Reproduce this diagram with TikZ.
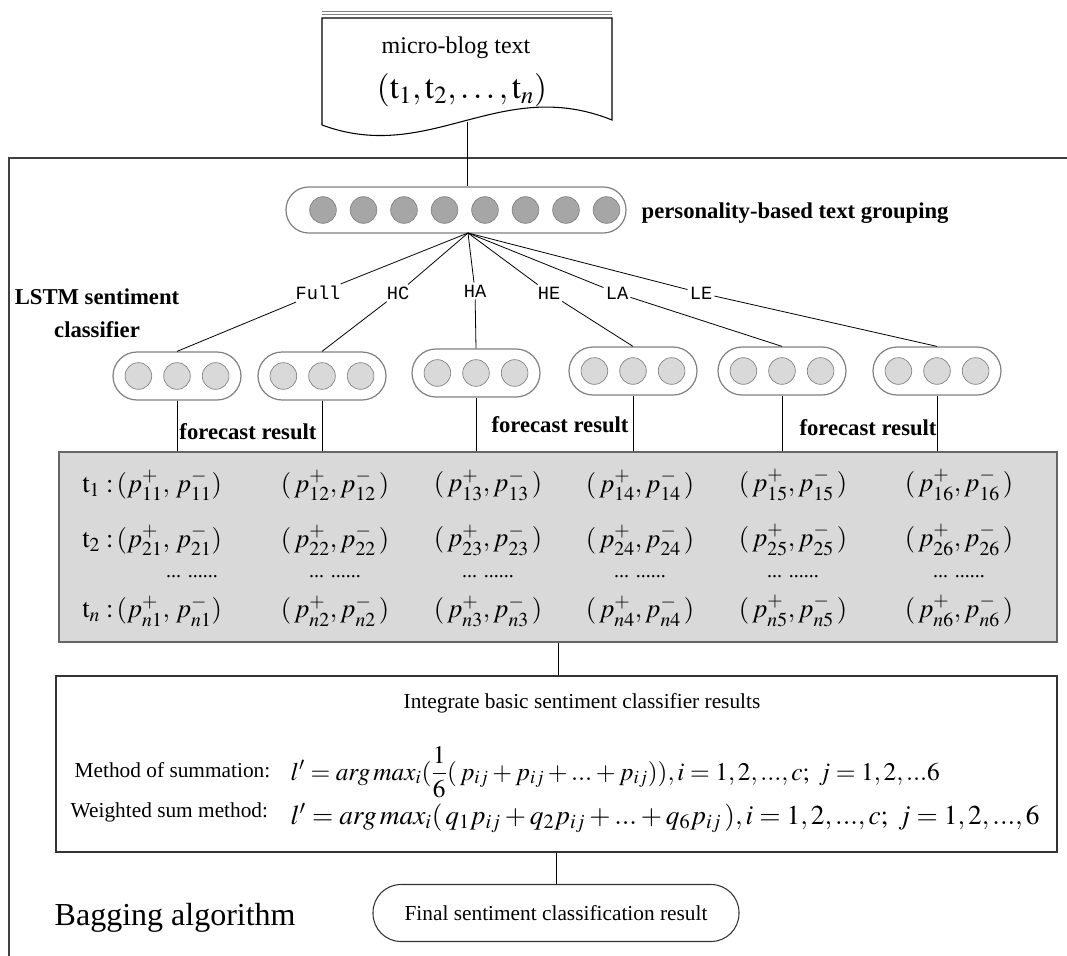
\documentclass[tikz,border=0pt]{standalone}
\usepackage{amsmath}
\usepackage{mathptmx}
\usepackage{fontspec}
\setmainfont{Liberation Serif}
\newfontfamily\branchfont{Liberation Mono}
\usetikzlibrary{positioning}
\definecolor{CellGray}{RGB}{217,217,217}
\definecolor{DotGray}{RGB}{166,166,166}
\definecolor{EdgeGray}{RGB}{128,128,128}

\begin{document}
\begin{tikzpicture}[x=0.75pt,y=-0.75pt,
	conn/.style={line width=0.6pt},
	pill/.style={draw=EdgeGray,line width=0.9pt,fill=white},
	bigdot/.style={fill=DotGray,draw=EdgeGray,line width=0.5pt},
	smalldot/.style={fill=CellGray,draw=EdgeGray,line width=0.5pt},
	branch/.style={font=\branchfont\fontsize{14}{16}\selectfont,inner sep=1.5pt},
	boldlbl/.style={font=\bfseries\fontsize{17}{25}\selectfont},
	cell/.style={font=\fontsize{20}{24}\selectfont,inner sep=0pt},
	ellip/.style={font=\fontsize{15}{15}\selectfont,inner sep=0pt},
	plain/.style={font=\fontsize{16}{18}\selectfont},
	formula/.style={anchor=west}]
	\useasboundingbox (0,0) rectangle (1067,956);
	
	% micro-blog document
	\draw[line width=0.7pt,gray] (322,11) -- (612,11);
	\draw[line width=0.7pt,gray] (322,14) -- (612,14);
	\draw[line width=0.8pt] (322,125) -- (322,18) -- (612,18) -- (612,120)
		.. controls (500,75) and (430,165) .. (322,125);
	\node[font=\fontsize{18}{20}\selectfont] (blogtitle) at (456,48) {micro-blog text};
	\node[font=\fontsize{25}{28}\selectfont] (blogseq) at (462,90) {$(\mathrm{t}_1, \mathrm{t}_2, \ldots, \mathrm{t}_n)$};
	\coordinate (docbot) at (467,122);
	
	% open frame of the bagging part
	\draw[line width=0.8pt,black!75] (1067,158) -- (9,158) -- (9,956);
	
	% grouping layer
	\node[pill,minimum width=255pt,minimum height=34.5pt,rounded corners=17pt] (grp) at (456,210) {};
	\foreach \k in {0,...,7}
		\draw[bigdot] ({323+40.5*\k},210) circle (10pt);
	\coordinate (hub) at (468,233);
	\draw[conn] (docbot) -- (docbot |- grp.north);
	\node[boldlbl,anchor=west] (grptext) at (637,213) {personality-based text grouping};
	\node[boldlbl,align=center] (lstm) at (97,313) {LSTM sentiment\\classifier};
	
	% branch labels
	\node[branch] (bFull) at (318,293) {Full};
	\node[branch] (bHC) at (398,293) {HC};
	\node[branch] (bHA) at (475,291) {HA};
	\node[branch] (bHE) at (549,293) {HE};
	\node[branch] (bLA) at (617,293) {LA};
	\node[branch] (bLE) at (701,293) {LE};
	\foreach \b in {Full,HC,HA,HE,LA,LE}
		\draw[conn] (hub) -- (b\b);
	
	% base classifiers
	\foreach \name/\cx/\cy in {1/177/376, 2/322/376, 3/476/373, 4/633/371, 5/782/371, 6/937/371} {
		\node[pill,minimum width=96pt,minimum height=36pt,rounded corners=18pt] (cls\name) at (\cx,\cy) {};
		\foreach \d in {-38.6,0,38.6}
			\draw[smalldot] ({\cx+\d},\cy) circle (10pt);
	}
	\foreach \b/\name in {Full/1,HC/2,HA/3,HE/4,LA/5,LE/6}
		\draw[conn] (b\b) -- (cls\name.north);
	
	% forecast table
	\node[draw=EdgeGray!80!black,line width=0.9pt,fill=CellGray,minimum width=748.5pt,minimum height=142.5pt,inner sep=0pt] (tbl) at (558,547) {};
	\foreach \name in {1,...,6}
		\draw[conn] (cls\name.south) -- (cls\name.south |- tbl.north);
	\node[boldlbl] (fc1) at (248,432) {forecast result};
	\node[boldlbl] (fc2) at (560,425) {forecast result};
	\node[boldlbl] (fc3) at (868,428) {forecast result};
	
	\node[cell,anchor=west] (r1c1) at (82,485) {$\mathrm{t}_1\;{:}\,(p^{+}_{11},\, p^{-}_{11})$};
	\node[cell,anchor=west] (r2c1) at (82,540) {$\mathrm{t}_2\;{:}\,(p^{+}_{21},\, p^{-}_{21})$};
	\node[ellip] (d1) at (192,577) {... ......};
	\node[cell,anchor=west] (rnc1) at (82,611) {$\mathrm{t}_n\;{:}\,(p^{+}_{n1},\, p^{-}_{n1})$};
	\foreach \c/\x in {2/335, 3/488, 4/640, 5/793, 6/959} {
		\node[cell] (r1c\c) at (\x,485) {$(\,p^{+}_{1\c}, p^{-}_{1\c}\,)$};
		\node[cell] (r2c\c) at (\x,540) {$(\,p^{+}_{2\c}, p^{-}_{2\c}\,)$};
		\node[ellip] (d\c) at (\x,577) {... ......};
		\node[cell] (rnc\c) at (\x,611) {$(\,p^{+}_{n\c}, p^{-}_{n\c}\,)$};
	}
	
	% integration of the results
	\node[draw=black!80,line width=0.8pt,minimum width=750.75pt,minimum height=132pt] (integ) at (556.5,764) {};
	\draw[conn] (tbl.south) -- (tbl.south |- integ.north);
	\node[plain] (integtitle) at (582,703) {Integrate basic sentiment classifier results};
	\node[plain,anchor=west] (msum) at (70,770) {Method of summation:};
	\node[formula,font=\fontsize{19}{21}\selectfont] (fsum) at (286,772) {$l' = arg\,max_i(\dfrac{1}{6}(\,p_{ij} + p_{ij} + ... + p_{ij})), i=1,2,...,c;\ j=1,2,...6$};
	\node[plain,anchor=west] (mwt) at (66,812) {Weighted sum method:};
	\node[formula,font=\fontsize{20.5}{22}\selectfont] (fwt) at (286,818) {$l' = arg\,max_i(\,q_1 p_{ij} + q_2 p_{ij} + ... + q_6 p_{ij}\,), i=1,2,...,c;\ j=1,2,...,6$};
	
	% final result
	\node[plain,draw=black!80,line width=0.8pt,rounded corners=21pt,minimum width=274.5pt,minimum height=42.75pt] (final) at (556,913) {Final sentiment classification result};
	\draw[conn] (integ.south) -- (integ.south |- final.north);
	\node[anchor=west,font=\fontsize{24}{28}\selectfont] (bagging) at (50,918) {Bagging algorithm};
\end{tikzpicture}
\end{document}
